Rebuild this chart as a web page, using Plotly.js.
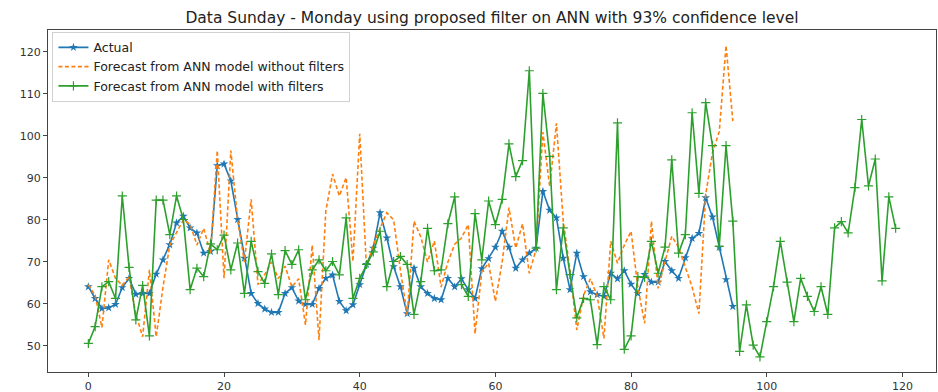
<!DOCTYPE html>
<html>
<head>
<meta charset="utf-8">
<script src="https://cdn.plot.ly/plotly-3.0.1.min.js"></script>
<style>
  html, body { margin: 0; padding: 0; background: #ffffff; }
  #chart { width: 938px; height: 392px; }
</style>
</head>
<body>
<div id="chart"></div>
<script>
// Hourly load, Sunday - Monday: actual values and the two ANN forecasts
const actual = [
  64.1, 61.3, 58.9, 59.1, 59.9, 63.9, 66.1, 62.3, 62.5, 62.5,
  67.1, 70.5, 74.1, 79.3, 80.9, 78.1, 76.9, 72.1, 72.5, 92.9,
  93.3, 89.3, 80.1, 70.9, 62.5, 60.1, 58.8, 58.0, 58.0, 62.5,
  63.9, 60.7, 59.9, 59.9, 63.7, 66.1, 66.9, 60.6, 58.4, 59.8,
  64.6, 69.4, 73.3, 81.7, 75.7, 68.9, 64.1, 57.7, 68.5, 64.1,
  62.5, 61.3, 61.0, 66.1, 64.1, 66.0, 63.4, 61.3, 68.4, 70.8,
  73.5, 77.3, 73.5, 68.5, 70.5, 72.1, 73.3, 86.8, 82.3, 80.5,
  70.9, 63.4, 72.1, 66.5, 62.9, 62.2, 61.8, 67.3, 66.0, 67.9,
  64.7, 62.5, 67.0, 65.2, 65.2, 70.1, 67.9, 66.1, 71.0, 75.6,
  76.8, 85.3, 80.7, 73.5, 65.8, 59.4
];

const forecastNoFilter = [
  64.6, 62.0, 54.4, 70.5, 66.1, 64.4, 66.5, 57.5, 52.2, 68.1,
  52.2, 64.0, 74.0, 77.0, 80.0, 79.0, 74.0, 78.0, 72.0, 96.5,
  66.1, 96.5, 80.0, 70.0, 84.9, 64.6, 67.0, 70.0, 66.0, 69.0,
  64.0, 66.0, 55.0, 74.0, 51.4, 82.1, 90.9, 85.7, 90.1, 70.1,
  100.5, 68.5, 74.0, 78.0, 81.7, 80.0, 68.0, 57.4, 79.7, 76.0,
  70.0, 75.0, 64.0, 70.0, 74.2, 75.7, 78.9, 52.9, 67.7, 69.7,
  60.6, 70.0, 82.9, 73.3, 79.1, 67.3, 73.0, 100.9, 88.0, 103.0,
  79.7, 68.0, 53.8, 62.0, 66.0, 62.0, 51.8, 74.9, 69.7, 74.0,
  77.3, 64.0, 55.4, 79.7, 63.7, 70.0, 76.1, 73.5, 69.0, 64.0,
  57.7, 86.0, 96.0, 101.0, 121.5, 103.5
];

const forecastFiltered = [
  50.6, 54.6, 64.1, 65.3, 61.3, 85.7, 68.7, 56.2, 64.4, 52.4,
  84.7, 84.7, 76.5, 85.7, 80.1, 63.4, 68.5, 66.5, 74.3, 72.9,
  76.4, 68.1, 74.5, 62.5, 74.9, 67.7, 64.9, 71.9, 62.2, 72.7,
  69.4, 72.9, 61.0, 68.1, 70.5, 67.9, 70.1, 66.9, 80.5, 61.3,
  66.1, 69.4, 72.4, 77.3, 64.1, 70.1, 71.3, 69.4, 57.5, 65.3,
  78.0, 67.9, 68.1, 79.1, 85.5, 64.6, 61.8, 81.5, 70.5, 84.5,
  78.9, 84.9, 98.1, 90.3, 94.1, 115.5, 73.3, 110.1, 95.1, 63.4,
  78.1, 67.0, 56.7, 61.3, 61.0, 50.3, 64.1, 61.0, 103.1, 49.2,
  52.4, 66.5, 66.3, 74.9, 67.3, 73.5, 94.3, 72.1, 76.5, 105.5,
  86.3, 107.9, 97.7, 73.7, 97.7, 79.7, 48.7, 59.8, 50.2, 47.4,
  55.8, 64.1, 74.9, 65.2, 55.8, 66.1, 61.8, 58.2, 64.1, 57.5,
  78.1, 79.6, 76.9, 87.7, 103.9, 88.1, 94.5, 65.5, 85.5, 78.0
];

const seriesNames = [
  "Actual",
  "Forecast from ANN model without filters",
  "Forecast from ANN model with filters"
];
const xTicks = [0, 20, 40, 60, 80, 100, 120];
const yTicks = [50, 60, 70, 80, 90, 100, 110, 120];
const chartTitle = "Data Sunday - Monday using proposed filter on ANN with 93% confidence level";

const idx = arr => arr.map((_, i) => i);

const traces = [
  {
    x: idx(actual), y: actual, name: seriesNames[0],
    type: "scatter", mode: "lines+markers",
    line: { color: "#1f77b4", width: 1.6 },
    marker: { symbol: "star", size: 6.5, color: "#1f77b4" }
  },
  {
    x: idx(forecastNoFilter), y: forecastNoFilter, name: seriesNames[1],
    type: "scatter", mode: "lines",
    line: { color: "#ff7f0e", width: 1.6, dash: "4px,2.5px" }
  },
  {
    x: idx(forecastFiltered), y: forecastFiltered, name: seriesNames[2],
    type: "scatter", mode: "lines+markers",
    line: { color: "#2ca02c", width: 1.6 },
    marker: { symbol: "cross-thin", size: 6.5, color: "#2ca02c",
              line: { color: "#2ca02c", width: 1.2 } }
  }
];

const axisCommon = {
  showgrid: false, zeroline: false,
  showline: true, mirror: true, linecolor: "#444", linewidth: 1,
  ticks: "outside", ticklen: 4, tickcolor: "#444", tickwidth: 1,
  tickfont: { family: "DejaVu Sans", size: 11, color: "#333" }
};

const layout = {
  width: 938, height: 392,
  margin: { l: 48, r: 2, t: 30, b: 20 },
  paper_bgcolor: "#ffffff", plot_bgcolor: "#ffffff",
  font: { family: "DejaVu Sans", color: "#222" },
  title: {
    text: chartTitle,
    font: { family: "DejaVu Sans", size: 15.5, color: "#222" },
    xref: "paper", x: 0.5, xanchor: "center",
    yref: "container", y: 1 - 18 / 392, yanchor: "middle"
  },
  xaxis: Object.assign({}, axisCommon, {
    range: [-5.95, 124.95], tickvals: xTicks, ticktext: xTicks.map(String)
  }),
  yaxis: Object.assign({}, axisCommon, {
    range: [43.8, 125.2], tickvals: yTicks, ticktext: yTicks.map(String)
  }),
  showlegend: true,
  legend: {
    x: 0.005, y: 0.995, xanchor: "left", yanchor: "top",
    bgcolor: "rgba(255,255,255,0.85)", bordercolor: "#d0d0d0", borderwidth: 1,
    font: { family: "DejaVu Sans", size: 12.5, color: "#222" },
    tracegroupgap: 0, itemwidth: 30
  }
};

Plotly.newPlot("chart", traces, layout, { displayModeBar: false, staticPlot: true });
</script>
</body>
</html>
